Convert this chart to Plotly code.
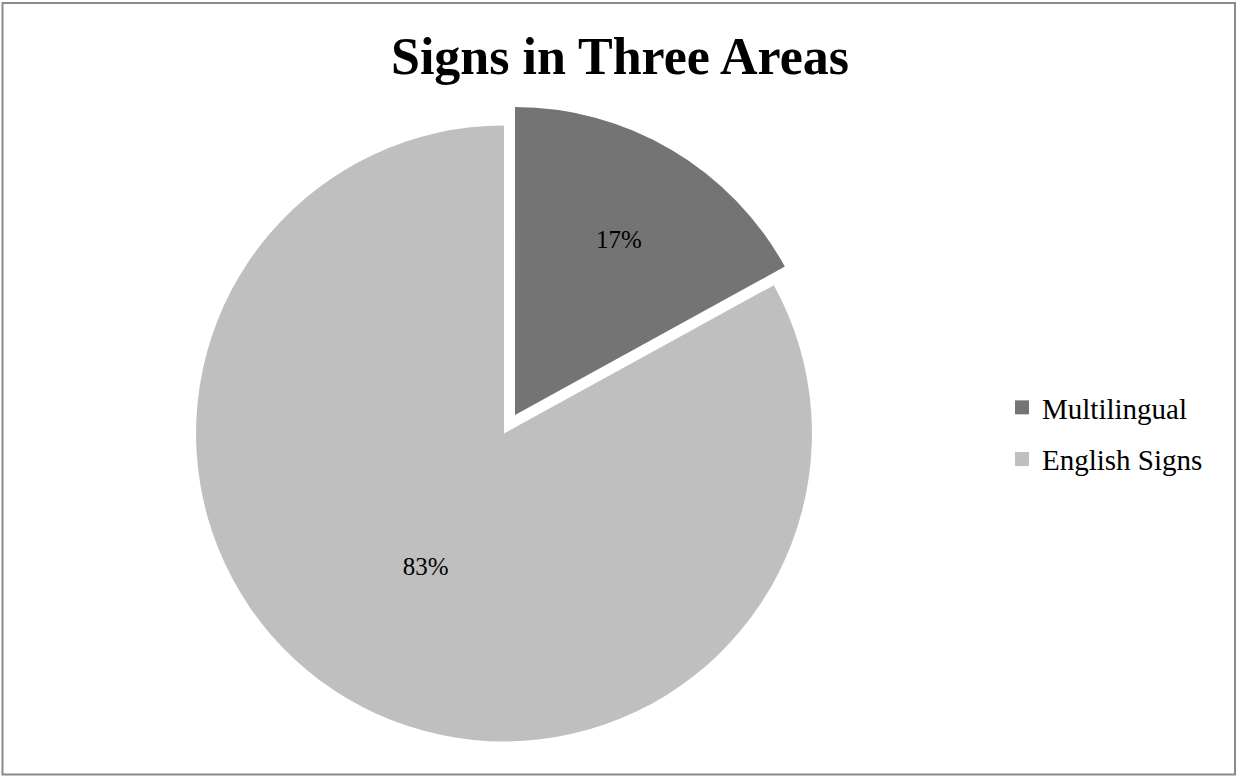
import plotly.graph_objects as go

labels = ["Multilingual", "English Signs"]
values = [17, 83]
colors = ["#747474", "#bfbfbf"]
pulls = [0.07, 0]

W, H = 1236, 776
FONT = "Liberation Serif"

fig = go.Figure()

fig.add_trace(go.Pie(
    labels=labels,
    values=values,
    pull=pulls,
    sort=False,
    direction="clockwise",
    rotation=0,
    marker=dict(colors=colors, line=dict(width=0)),
    textinfo="percent",
    textposition="inside",
    insidetextorientation="horizontal",
    textfont=dict(family=FONT, size=25, color="black"),
    showlegend=False,
    hoverinfo="label+percent",
    domain=dict(x=[(504 - 330) / W, (504 + 330) / W],
                y=[1 - 763 / H, 1 - 104 / H]),
))

# legend entries (one group each so the gap between them can be set)
for lab, col in zip(labels, colors):
    fig.add_trace(go.Scatter(
        x=[None], y=[None], mode="markers", name=lab, legendgroup=lab,
        marker=dict(symbol="square", size=14, color=col),
        showlegend=True,
    ))

fig.update_layout(
    width=W, height=H,
    margin=dict(l=0, r=0, t=0, b=0),
    paper_bgcolor="white",
    plot_bgcolor="white",
    xaxis=dict(visible=False),
    yaxis=dict(visible=False),
    title=dict(text="<b>Signs in Three Areas</b>", x=620 / W, xanchor="center",
               y=1 - 56 / H, yanchor="middle",
               font=dict(family=FONT, size=52, color="black")),
    legend=dict(x=(1042 - 40) / W, xanchor="left", y=1 - 433.5 / H, yanchor="middle",
                font=dict(family=FONT, size=29, color="black"),
                tracegroupgap=11, bgcolor="rgba(0,0,0,0)"),
    shapes=[dict(type="rect", xref="paper", yref="paper",
                 x0=2.5 / W, x1=1235 / W, y0=1 - 774.5 / H, y1=1 - 3 / H,
                 line=dict(color="#8a8a8a", width=2))],
)

fig.write_html("out.html")
